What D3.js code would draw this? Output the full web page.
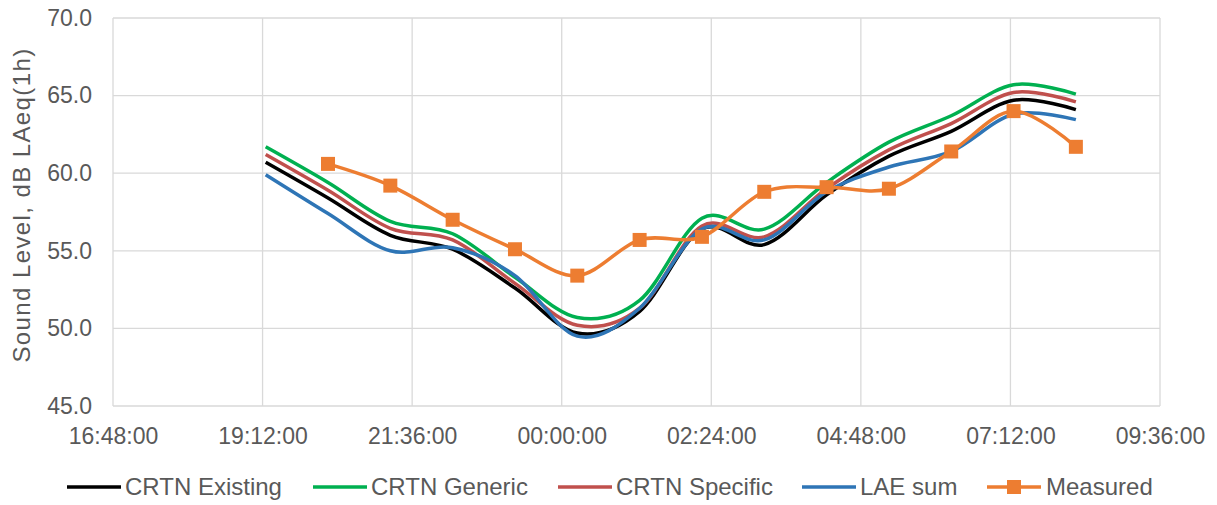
<!DOCTYPE html>
<html>
<head>
<meta charset="utf-8">
<script src="https://cdn.jsdelivr.net/npm/d3@7"></script>
<style>
  body { margin: 0; background: #fff; }
  text { font-family: "Liberation Sans", Arial, sans-serif; fill: #595959; }
</style>
</head>
<body>
<script>
// hourly times (hh:15), day 1 evening -> day 2 morning
var times = ["19:15", "20:15", "21:15", "22:15", "23:15", "00:15", "01:15", "02:15", "03:15", "04:15", "05:15", "06:15", "07:15", "08:15"];
var crtnExisting = [60.7, 58.4, 56.0, 55.1, 52.6, 49.7, 51.1, 56.4, 55.4, 58.6, 61.1, 62.7, 64.7, 64.1];
var crtnGeneric  = [61.7, 59.4, 56.9, 56.1, 53.3, 50.7, 51.8, 57.1, 56.4, 59.4, 62.0, 63.7, 65.7, 65.1];
var crtnSpecific = [61.2, 58.9, 56.45, 55.7, 52.9, 50.2, 51.3, 56.6, 55.9, 59.0, 61.5, 63.2, 65.2, 64.6];
var laeSum       = [59.9, 57.4, 55.0, 55.2, 53.4, 49.5, 51.3, 56.4, 55.7, 58.8, 60.4, 61.4, 63.8, 63.45];
var measuredTimes = times.slice(1);
var measured = [60.6, 59.2, 57.0, 55.1, 53.4, 55.7, 55.9, 58.8, 59.1, 59.0, 61.4, 64.0, 61.7];
var xTickLabels = ["16:48:00", "19:12:00", "21:36:00", "00:00:00", "02:24:00", "04:48:00", "07:12:00", "09:36:00"];
var yTicks = [45, 50, 55, 60, 65, 70];

function toDate(s) {
  var p = s.split(":").map(Number);
  var day = p[0] >= 12 ? 1 : 2;
  return new Date(2020, 0, day, p[0], p[1], p[2] || 0);
}

var W = 1217, H = 505;
var m = {left: 113, right: 57, top: 18, bottom: 99};

var svg = d3.select("body").append("svg")
  .attr("width", W)
  .attr("height", H);

var x = d3.scaleTime()
  .domain([toDate(xTickLabels[0]), toDate(xTickLabels[xTickLabels.length - 1])])
  .range([m.left, W - m.right]);
var y = d3.scaleLinear().domain([45, 70]).range([H - m.bottom, m.top]);

// grid
svg.append("g").selectAll("line.h").data(yTicks).enter().append("line")
  .attr("x1", m.left).attr("x2", W - m.right)
  .attr("y1", d => y(d)).attr("y2", d => y(d))
  .attr("stroke", "#d9d9d9").attr("stroke-width", 1.3);
svg.append("g").selectAll("line.v").data(xTickLabels).enter().append("line")
  .attr("x1", d => x(toDate(d))).attr("x2", d => x(toDate(d)))
  .attr("y1", m.top).attr("y2", H - m.bottom)
  .attr("stroke", "#d9d9d9").attr("stroke-width", 1.3);

// axes labels
var yAxis = d3.axisLeft(y).tickValues(yTicks).tickFormat(d3.format(".1f")).tickSize(0).tickPadding(21);
svg.append("g").attr("transform", "translate(" + m.left + ",0)").call(yAxis)
  .call(g => g.select(".domain").remove())
  .selectAll("text").style("font-size", "23px").attr("fill", "#595959");

var xAxis = d3.axisBottom(x).tickValues(xTickLabels.map(toDate)).tickFormat(d3.timeFormat("%H:%M:%S")).tickSize(0).tickPadding(22);
svg.append("g").attr("transform", "translate(0," + (H - m.bottom) + ")").call(xAxis)
  .call(g => g.select(".domain").remove())
  .selectAll("text").style("font-size", "23px").attr("fill", "#595959");

svg.append("text")
  .attr("transform", "translate(30,205) rotate(-90)")
  .attr("text-anchor", "middle")
  .style("font-size", "24px")
  .style("letter-spacing", "1.4px")
  .text("Sound Level, dB LAeq(1h)");

// series
var series = [
  {name: "CRTN Existing", t: times, v: crtnExisting, color: "#000000"},
  {name: "CRTN Generic", t: times, v: crtnGeneric, color: "#00B050"},
  {name: "CRTN Specific", t: times, v: crtnSpecific, color: "#C0504D"},
  {name: "LAE sum", t: times, v: laeSum, color: "#2E75B6"},
  {name: "Measured", t: measuredTimes, v: measured, color: "#ED7D31", marker: true}
];

var line = d3.line()
  .x(d => x(d[0]))
  .y(d => y(d[1]))
  .curve(d3.curveCatmullRom.alpha(0));

series.forEach(function(s) {
  var pts = s.t.map((t, i) => [toDate(t), s.v[i]]);
  svg.append("path")
    .datum(pts)
    .attr("fill", "none")
    .attr("stroke", s.color)
    .attr("stroke-width", 3.5)
    .attr("d", line);
  if (s.marker) {
    svg.append("g").selectAll("rect").data(pts).enter().append("rect")
      .attr("x", d => x(d[0]) - 7).attr("y", d => y(d[1]) - 7)
      .attr("width", 14).attr("height", 14)
      .attr("fill", s.color);
  }
});

// legend
var legendX = [67, 313, 558, 802, 987];
var lg = svg.append("g").attr("transform", "translate(0,487)");
series.forEach(function(s, i) {
  var g = lg.append("g").attr("transform", "translate(" + legendX[i] + ",0)");
  g.append("line").attr("x1", 0).attr("x2", 54).attr("y1", 0).attr("y2", 0)
    .attr("stroke", s.color).attr("stroke-width", 3.5);
  if (s.marker) {
    g.append("rect").attr("x", 20).attr("y", -7).attr("width", 14).attr("height", 14).attr("fill", s.color);
  }
  g.append("text").attr("x", s.marker ? 59 : 58).attr("y", 0).attr("dy", "0.35em")
    .style("font-size", "24px").text(s.name);
});
</script>
</body>
</html>
